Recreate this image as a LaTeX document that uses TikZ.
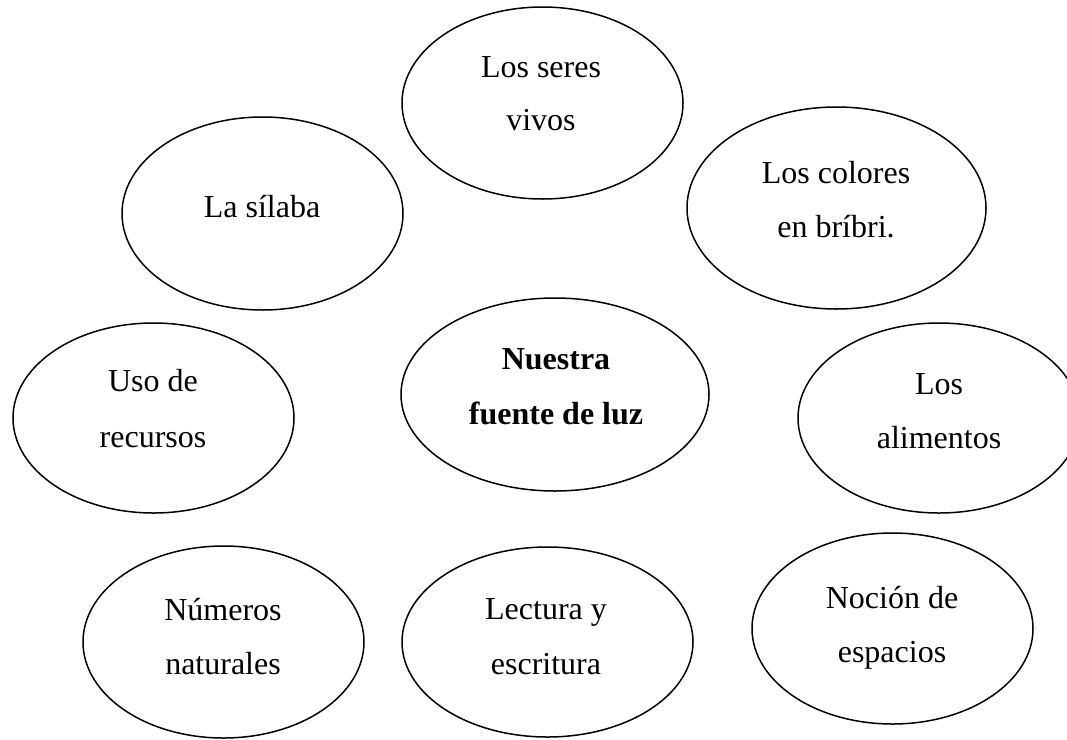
\documentclass[tikz,border=0pt]{standalone}
\usepackage{fontspec}
\setmainfont{Liberation Serif}
\usetikzlibrary{shapes.geometric}
\begin{document}
\begin{tikzpicture}[x=1pt,y=-1pt,
  topic/.style={draw=black, line width=1.5pt, ellipse, inner sep=0pt},
  txt/.style={anchor=base, inner sep=0pt, font=\fontsize{32}{38}\selectfont},
  bold/.style={txt, font=\fontsize{32}{38}\selectfont\bfseries}]
\useasboundingbox (0,0) rectangle (1067,739);
% ellipses
\node[topic, minimum width=281pt, minimum height=192pt] (seres) at (542.5,103) {};
\node[topic, minimum width=281pt, minimum height=193pt] (silaba) at (262.5,213.5) {};
\node[topic, minimum width=299pt, minimum height=202pt] (colores) at (836.5,208) {};
\node[topic, minimum width=308pt, minimum height=193pt] (luz) at (555,394.5) {};
\node[topic, minimum width=282pt, minimum height=190pt] (alimentos) at (939,418) {};
\node[topic, minimum width=281pt, minimum height=190pt] (uso) at (153.5,418) {};
\node[topic, minimum width=281pt, minimum height=192pt] (numeros) at (223.5,642) {};
\node[topic, minimum width=291pt, minimum height=190pt] (lectura) at (547.5,642) {};
\node[topic, minimum width=281pt, minimum height=191pt] (nocion) at (892.5,628.5) {};
% texts
\node[txt] (seresA) at (541,77) {Los seres};
\node[txt] (seresB) at (541,130) {vivos};
\node[txt] (silabaA) at (262,217) {La sílaba};
\node[txt] (coloresA) at (836,183) {Los colores};
\node[txt] (coloresB) at (836,237) {en bríbri.};
\node[bold] (luzA) at (556,369) {Nuestra};
\node[bold] (luzB) at (556,424) {fuente de luz};
\node[txt] (alimentosA) at (939,394) {Los};
\node[txt] (alimentosB) at (939,448) {alimentos};
\node[txt] (usoA) at (153,391) {Uso de};
\node[txt] (usoB) at (153,447) {recursos};
\node[txt] (numerosA) at (223,620) {Números};
\node[txt] (numerosB) at (223,674) {naturales};
\node[txt] (lecturaA) at (546,619) {Lectura y};
\node[txt] (lecturaB) at (546,674) {escritura};
\node[txt] (nocionA) at (892,608) {Noción de};
\node[txt] (nocionB) at (892,662) {espacios};
\end{tikzpicture}
\end{document}
